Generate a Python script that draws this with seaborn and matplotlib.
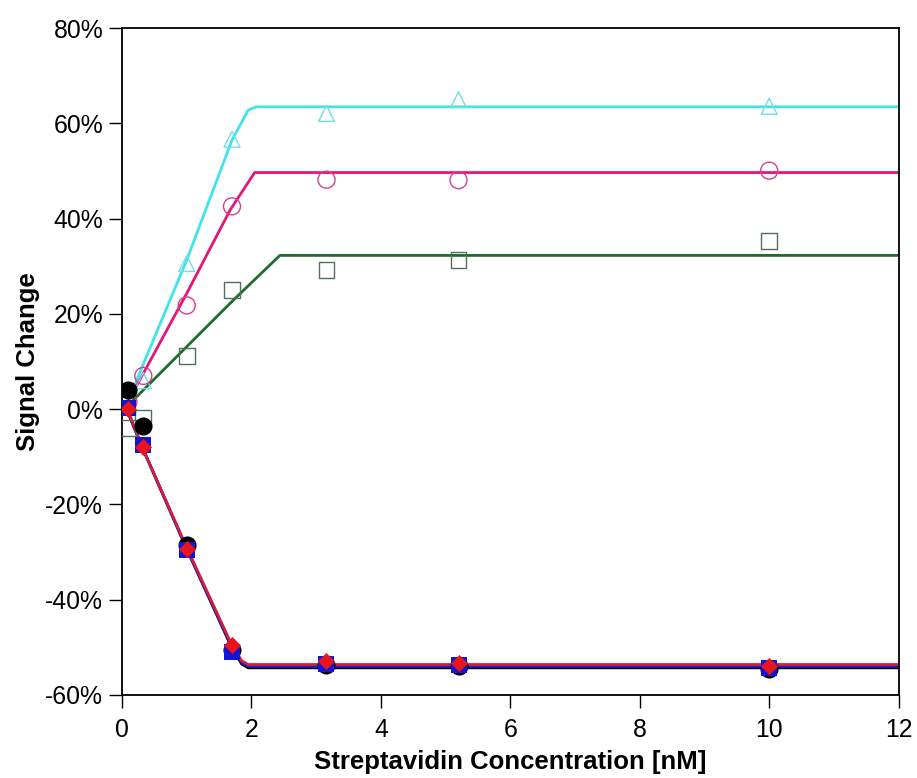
import numpy as np
import pandas as pd
import matplotlib
matplotlib.use("Agg")
import matplotlib.pyplot as plt
import seaborn as sns
from matplotlib.ticker import PercentFormatter

# ---- data ----
conc = [0.1, 0.33, 1.0, 1.7, 3.16, 5.2, 10]

cyan_pts = [1.0, 6.0, 30.6, 56.7, 62.1, 65.0, 63.6]
magenta_pts = [1.5, 7.0, 21.8, 42.6, 48.2, 48.1, 50.1]
green_pts = [-4.0, -1.8, 11.1, 25.0, 29.2, 31.3, 35.3]
black_pts = [4.0, -3.6, -28.5, -50.5, -53.8, -54.0, -54.5]
blue_pts = [0.2, -7.6, -29.6, -51.0, -53.4, -53.7, -54.3]
red_pts = [0.0, -8.0, -29.4, -49.4, -52.8, -53.2, -54.0]

# fitted curves (knots)
cyan_fit_x = [0.07, 1.0, 1.7, 1.95, 2.08, 12]
cyan_fit_y = [1.0, 31.3, 56.5, 62.8, 63.5, 63.5]
magenta_fit_x = [0.07, 1.0, 1.67, 2.05, 12]
magenta_fit_y = [1.0, 24.3, 41.8, 49.7, 49.7]
green_fit_x = [0.07, 1.72, 2.44, 12]
green_fit_y = [0.5, 22.9, 32.3, 32.3]
low_fit_x = [0.07, 0.33, 1.0, 1.7, 1.85, 1.95, 12]
black_fit_y = [0.0, -8.5, -29.3, -50.2, -53.5, -54.3, -54.3]
blue_fit_y = [0.2, -8.5, -29.3, -50.0, -53.2, -54.0, -54.0]
red_fit_y = [0.5, -8.5, -29.0, -49.6, -52.8, -53.6, -53.6]

x_ticks = [0, 2, 4, 6, 8, 10, 12]
y_ticks = [-60, -40, -20, 0, 20, 40, 60, 80]

# ---- style ----
sns.set_style("ticks")
plt.rcParams['font.family'] = ['Liberation Sans', 'DejaVu Sans']
plt.rcParams['axes.unicode_minus'] = False

fig = plt.figure(figsize=(9.17, 7.78), dpi=100)
ax = fig.add_axes([0.133, 0.1067, 0.847, 0.857])

C_CYAN = "#3fe3ea"
C_MAG = "#e3167a"
C_MAG_M = "#d2408e"
C_GREEN = "#1f6a2e"
C_GREEN_M = "#50705a"

fits = [
    (cyan_fit_x, cyan_fit_y, C_CYAN),
    (magenta_fit_x, magenta_fit_y, C_MAG),
    (green_fit_x, green_fit_y, C_GREEN),
    (low_fit_x, black_fit_y, "#000000"),
    (low_fit_x, blue_fit_y, "#1c1cc8"),
    (low_fit_x, red_fit_y, "#d21e3c"),
]
for fx, fy, col in fits:
    sns.lineplot(x=fx, y=fy, ax=ax, color=col, lw=2.0, sort=False,
                 estimator=None, zorder=2)

# open markers
sns.scatterplot(x=conc, y=cyan_pts, ax=ax, marker="^", s=130,
                facecolor="none", edgecolor="#6fe0e6", linewidth=1.0, zorder=3)
sns.scatterplot(x=conc, y=magenta_pts, ax=ax, marker="o", s=150,
                facecolor="none", edgecolor=C_MAG_M, linewidth=1.0, zorder=3)
sns.scatterplot(x=conc, y=green_pts, ax=ax, marker="s", s=130,
                facecolor="none", edgecolor=C_GREEN_M, linewidth=1.0, zorder=3)
# filled markers
sns.scatterplot(x=conc, y=black_pts, ax=ax, marker="o", s=170,
                color="#000000", edgecolor="#000000", linewidth=0, zorder=4)
sns.scatterplot(x=conc, y=blue_pts, ax=ax, marker="s", s=130,
                color="#1414d2", edgecolor="#1414d2", linewidth=0, zorder=5)
sns.scatterplot(x=conc, y=red_pts, ax=ax, marker="D", s=75,
                color="#e8141e", edgecolor="#e8141e", linewidth=0, zorder=6)

ax.set_xlim(0, 12)
ax.set_ylim(-60, 80)
ax.set_xticks(x_ticks)
ax.set_yticks(y_ticks)
ax.yaxis.set_major_formatter(PercentFormatter(100, decimals=0))
ax.tick_params(axis="both", direction="out", length=9.5, width=1.0,
               labelsize=17.8, color="#000000", labelcolor="#000000",
               bottom=True, left=True)
ax.tick_params(axis="x", pad=7)
ax.tick_params(axis="y", pad=4)
for sp in ax.spines.values():
    sp.set_visible(True)
    sp.set_color("#000000")
    sp.set_linewidth(1.3)

ax.set_xlabel("Streptavidin Concentration [nM]", fontsize=18.5,
              fontweight="bold", labelpad=6, color="#000000")
ax.set_ylabel("Signal Change", fontsize=18.5, fontweight="bold", labelpad=4,
              color="#000000")

fig.savefig("out.png", dpi=100)
